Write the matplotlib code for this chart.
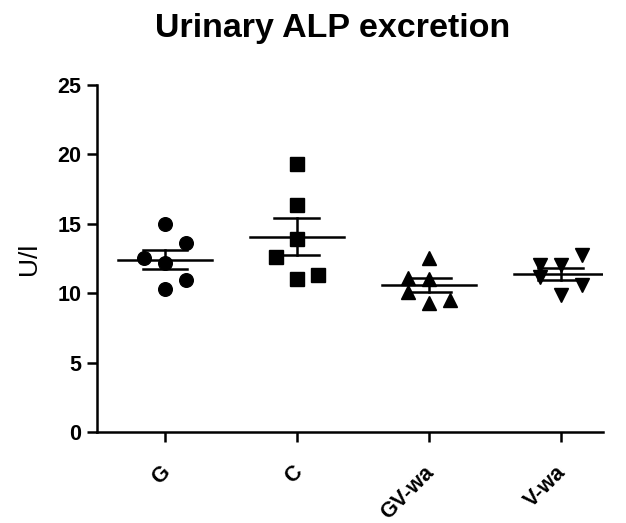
import numpy as np
from matplotlib import pyplot as plt
from matplotlib.transforms import ScaledTranslation, blended_transform_factory

# Urinary ALP excretion (U/l), one list per group
groups = ['G', 'C', 'GV-wa', 'V-wa']
g_vals = [14.99, 13.60, 12.51, 12.20, 10.95, 10.28]
c_vals = [19.31, 16.35, 13.88, 12.59, 11.00, 11.31]
gv_vals = [12.51, 11.10, 11.00, 10.10, 9.30, 9.50]
v_vals = [12.03, 12.03, 12.75, 11.20, 9.87, 10.59]
y_ticks = [0, 5, 10, 15, 20, 25]

# swarm layout: horizontal slot of each point (-1 left, 0 centre, 1 right)
slots = [[0, 1, -1, 0, 1, 0],
         [0, 0, 0, -1, 0, 1],
         [0, -1, 0, -1, 0, 1],
         [-1, 0, 1, -1, 0, 1]]
markers = [('o', 9.8), ('s', 10.5), ('^', 10), ('v', 10)]

plt.rcParams['font.family'] = ['Liberation Sans', 'DejaVu Sans']

fig = plt.figure(figsize=(6.26, 5.23), dpi=100)
ax = fig.add_axes([0.1545, 0.174, 0.808, 0.6635])

lw = 1.8
for i, vals in enumerate([g_vals, c_vals, gv_vals, v_vals]):
    vals = np.array(vals)
    xs = i + 0.16 * np.array(slots[i])
    mk, ms = markers[i]
    ax.plot(xs, vals, linestyle='none', marker=mk, markersize=ms,
            color='black', zorder=3)
    mean = vals.mean()
    sem = vals.std(ddof=1) / np.sqrt(len(vals))
    ax.plot([i - 0.355, i + 0.355], [mean, mean], color='black', lw=lw, zorder=4)
    ax.plot([i, i], [mean - sem, mean + sem], color='black', lw=lw, zorder=4)
    for y in (mean - sem, mean + sem):
        ax.plot([i - 0.17, i + 0.17], [y, y], color='black', lw=lw, zorder=4)

ax.set_xlim(-0.517, 3.316)
ax.set_ylim(0, 25)
ax.set_yticks(y_ticks)
ax.set_xticks(range(len(groups)))
ax.set_xticklabels([])
# rotated group labels, hung a little left of and below each tick
lab_tr = blended_transform_factory(ax.transData, ax.transAxes) + \
    ScaledTranslation(-0.05, -0.30, fig.dpi_scale_trans)
for i, g in enumerate(groups):
    ax.text(i, 0, g, transform=lab_tr, rotation=45, ha='right', va='top',
            rotation_mode='anchor', fontsize=15.5, fontweight='bold')
for lab in ax.get_yticklabels():
    lab.set_fontsize(15.5)
    lab.set_fontweight('bold')

for side in ['top', 'right']:
    ax.spines[side].set_visible(False)
for side in ['left', 'bottom']:
    ax.spines[side].set_linewidth(lw)
ax.tick_params(axis='both', length=7, width=lw, color='black')
ax.tick_params(axis='y', pad=4)

ax.set_ylabel('U/l', fontsize=19, labelpad=12)
fig.text(0.531, 0.929, 'Urinary ALP excretion', ha='center', va='baseline',
         fontsize=24.5, fontweight='bold')

fig.savefig('out.png', dpi=100)
